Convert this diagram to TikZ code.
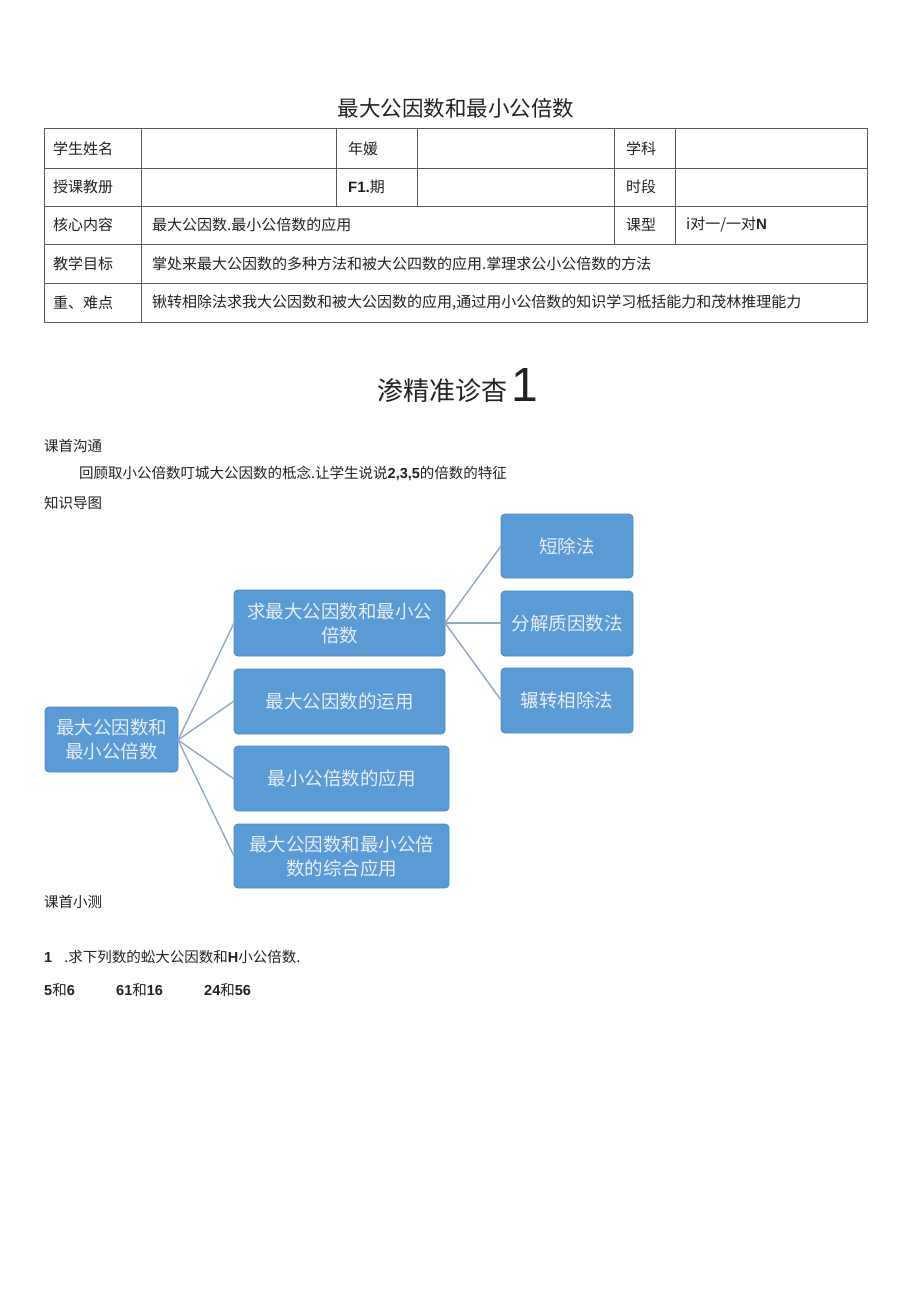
\documentclass[tikz,border=0pt]{standalone}
\usepackage{fontspec}
\setmainfont{Noto Sans CJK SC}
\newfontfamily\latinsans{Liberation Sans}
\definecolor{boxblue}{HTML}{5B9BD5}
\definecolor{boxedge}{HTML}{4A8AC4}
\definecolor{linkc}{HTML}{8FA9C9}
\definecolor{rulec}{HTML}{5A5A5A}
\definecolor{txt}{HTML}{222222}
\definecolor{boxtxt}{HTML}{E8EEF6}
\tikzset{
  cell/.style={anchor=west, inner sep=0pt, text=txt, font=\fontsize{15}{17}\selectfont},
  body/.style={anchor=west, inner sep=0pt, text=txt, font=\fontsize{14.5}{17}\selectfont},
  mbox/.style={draw=boxedge, fill=boxblue, rounded corners=4pt, line width=0.8pt},
  mtext/.style={text=boxtxt, align=center, inner sep=0pt, font=\fontsize{18.5}{24}\selectfont},
  link/.style={draw=linkc, line width=1.4pt},
  rule/.style={draw=rulec, line width=0.8pt}
}
\begin{document}
\begin{tikzpicture}[x=1pt,y=-1pt]
\useasboundingbox[fill=white] (0,0) rectangle (920,1301);
% title
\node[inner sep=0pt, text=txt, font=\fontsize{21.5}{24}\selectfont] (title) at (456,108) {最大公因数和最小公倍数};
% table
\draw[rule] (44,128) rectangle (867,322);
\foreach \yy in {168,206,244,283} \draw[rule] (44,\yy) -- (867,\yy);
\draw[rule] (141,128) -- (141,322);
\draw[rule] (336,128) -- (336,206);
\draw[rule] (417,128) -- (417,206);
\draw[rule] (614,128) -- (614,244);
\draw[rule] (675,128) -- (675,244);
\node[cell] (c11) at (53,149) {学生姓名};
\node[cell] (c13) at (348,149) {年媛};
\node[cell] (c15) at (626,149) {学科};
\node[cell] (c21) at (53,187) {授课教册};
\node[cell] (c23) at (348,187) {\textbf{\latinsans F1.}期};
\node[cell] (c25) at (626,187) {时段};
\node[cell] (c31) at (53,225) {核心内容};
\node[cell] (c32) at (152,225) {最大公因数.最小公倍数的应用};
\node[cell] (c35) at (626,225) {课型};
\node[cell] (c36) at (686,225) {i对一/一对\textbf{\latinsans N}};
\node[cell] (c41) at (53,264) {教学目标};
\node[cell] (c42) at (152,264) {掌处来最大公因数的多种方法和被大公四数的应用.掌理求公小公倍数的方法};
\node[cell] (c51) at (53,303) {重、难点};
\node[cell] (c52) at (152,303) {锹转相除法求我大公因数和被大公因数的应用,通过用小公倍数的知识学习柢括能力和茂林推理能力};
% section heading
\node[inner sep=0pt, text=txt, font=\fontsize{26}{30}\selectfont, anchor=base east] (sec) at (508,400) {渗精准诊杳};
\node[inner sep=0pt, text=txt, font=\fontsize{48}{52}\selectfont\latinsans, anchor=base west] (secnum) at (511,401) {1};
% body text
\node[body] (t1) at (44,446) {课首沟通};
\node[body] (t2) at (79,473) {回顾取小公倍数叮城大公因数的柢念.让学生说说\textbf{\latinsans 2,3,5}的倍数的特征};
\node[body] (t3) at (44,503) {知识导图};
% mind map
\draw[mbox] (45,707) rectangle (178,772);
\node[mtext] (root) at (111.5,739.5) {最大公因数和\\最小公倍数};
\draw[mbox] (234,590) rectangle (445,656);
\node[mtext] (m1) at (339.5,623) {求最大公因数和最小公\\倍数};
\draw[mbox] (234,669) rectangle (445,734);
\node[mtext] (m2) at (339.5,701.5) {最大公因数的运用};
\draw[mbox] (234,746) rectangle (449,811);
\node[mtext] (m3) at (341.5,778.5) {最小公倍数的应用};
\draw[mbox] (234,824) rectangle (449,888);
\node[mtext] (m4) at (341.5,856) {最大公因数和最小公倍\\数的综合应用};
\draw[mbox] (501,514) rectangle (633,578);
\node[mtext] (r1) at (567,546) {短除法};
\draw[mbox] (501,591) rectangle (633,656);
\node[mtext] (r2) at (567,623.5) {分解质因数法};
\draw[mbox] (501,668) rectangle (633,733);
\node[mtext] (r3) at (567,700.5) {辗转相除法};
\coordinate (rootE) at (178,740);
\coordinate (m1W) at (234,623);
\coordinate (m2W) at (234,701);
\coordinate (m3W) at (234,779);
\coordinate (m4W) at (234,856);
\coordinate (m1E) at (445,623);
\coordinate (r1W) at (501,546);
\coordinate (r2W) at (501,623);
\coordinate (r3W) at (501,700);
\draw[link] (rootE) -- (m1W);
\draw[link] (rootE) -- (m2W);
\draw[link] (rootE) -- (m3W);
\draw[link] (rootE) -- (m4W);
\draw[link] (m1E) -- (r1W);
\draw[link] (m1E) -- (r2W);
\draw[link] (m1E) -- (r3W);
% quiz
\node[body] (t4) at (44,902) {课首小测};
\node[body] (q1) at (44,957) {\textbf{\latinsans 1}\hspace{12pt}.求下列数的蚣大公因数和\textbf{\latinsans H}小公倍数.};
\node[body] (q2) at (44,990) {\textbf{\latinsans 5}和\textbf{\latinsans 6}};
\node[body] (q3) at (116,990) {\textbf{\latinsans 61}和\textbf{\latinsans 16}};
\node[body] (q4) at (204,990) {\textbf{\latinsans 24}和\textbf{\latinsans 56}};
\end{tikzpicture}
\end{document}
